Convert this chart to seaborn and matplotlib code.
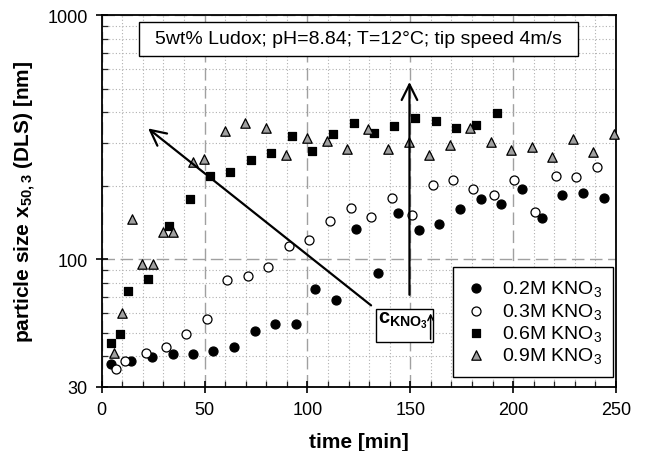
import numpy as np
import pandas as pd
import seaborn as sns
import matplotlib.pyplot as plt
from matplotlib.patches import Rectangle
from matplotlib.ticker import FixedLocator, MultipleLocator, NullFormatter

# (time in min, x50,3 in nm)
t_02 = [4.5, 14.1, 24.3, 34.5, 44.2, 54.3, 64.3, 74.4, 84.4, 94.3, 103.7, 113.9, 123.6,
        134.2, 144.2, 154.3, 164.1, 174.2, 184.3, 194.1, 204.2, 214.1, 223.9, 234.1, 244.2]
d_02 = [37.1, 38.3, 39.8, 41.1, 41.1, 42.1, 43.9, 50.8, 54.2, 54.5, 75.4, 68.1, 132.7,
        87.6, 155.4, 131.9, 139.1, 160.3, 176.2, 168.0, 193.6, 147.2, 182.9, 186.4, 179.0]

t_03 = [6.8, 11.3, 21.4, 31.3, 41.0, 51.0, 61.1, 71.3, 81.0, 90.9, 100.9, 111.0, 121.0,
        130.8, 141.0, 151.0, 160.9, 170.9, 180.7, 190.6, 200.6, 210.6, 220.7, 230.6, 240.6]
d_03 = [35.4, 38.3, 41.4, 43.7, 49.3, 57.2, 82.3, 85.4, 93.0, 113.4, 120.0, 143.6, 162.9,
        149.6, 177.8, 151.5, 201.7, 210.7, 193.6, 183.5, 210.7, 156.3, 218.3, 216.2, 239.0]

t_06 = [4.5, 8.9, 12.6, 22.7, 32.7, 42.9, 52.5, 62.5, 72.4, 82.5, 92.5, 102.4, 112.6,
        122.5, 132.2, 142.3, 152.3, 162.4, 172.2, 182.1, 192.3]
d_06 = [45.5, 49.6, 74.2, 83.3, 136.9, 177.3, 219.4, 226.6, 253.9, 272.8, 319.3, 276.3, 325.2,
        359.7, 327.5, 350.9, 377.6, 367.9, 343.4, 354.0, 398.1]

t_09 = [6.0, 9.7, 14.6, 19.8, 24.8, 29.9, 34.8, 44.5, 49.6, 59.8, 69.8, 80.0, 89.6, 99.7,
        109.4, 119.4, 129.3, 139.3, 149.4, 159.3, 169.3, 179.2, 189.3, 199.1, 209.2, 219.1,
        229.1, 239.0, 249.1]
d_09 = [41.2, 60.5, 146.8, 96.0, 96.0, 129.4, 129.4, 249.0, 256.9, 333.6, 360.9, 344.3, 267.5,
        313.3, 303.6, 281.6, 341.0, 281.6, 302.6, 266.1, 293.1, 344.3, 302.6, 279.9, 288.7,
        261.2, 310.3, 273.7, 325.2]

labels = ['0.2M KNO$_3$', '0.3M KNO$_3$', '0.6M KNO$_3$', '0.9M KNO$_3$']

df = pd.concat([
    pd.DataFrame({'time': t_02, 'size': d_02, 'series': labels[0]}),
    pd.DataFrame({'time': t_03, 'size': d_03, 'series': labels[1]}),
    pd.DataFrame({'time': t_06, 'size': d_06, 'series': labels[2]}),
    pd.DataFrame({'time': t_09, 'size': d_09, 'series': labels[3]}),
], ignore_index=True)

sns.set_style('white')
plt.rcParams['font.family'] = ['Liberation Sans', 'DejaVu Sans']
plt.rcParams['mathtext.fontset'] = 'custom'
plt.rcParams['mathtext.rm'] = 'Liberation Sans'
plt.rcParams['mathtext.bf'] = 'Liberation Sans:bold'
plt.rcParams['mathtext.default'] = 'regular'
plt.rcParams['text.color'] = 'black'
plt.rcParams['axes.labelcolor'] = 'black'

fig = plt.figure(figsize=(6.46, 4.52), dpi=100)
ax = fig.add_axes([0.1574, 0.1416, 0.7962, 0.823])

styles = {
    labels[0]: dict(marker='o', color='black', edgecolor='black', s=42),
    labels[1]: dict(marker='o', color='white', edgecolor='black', s=42),
    labels[2]: dict(marker='s', color='black', edgecolor='black', s=34),
    labels[3]: dict(marker='^', color='#a0a0a0', edgecolor='black', s=46),
}
for lab in labels:
    sub = df[df['series'] == lab]
    sns.scatterplot(data=sub, x='time', y='size', ax=ax, label=lab, linewidth=0.9,
                    clip_on=False, zorder=3, **styles[lab])

ax.set_yscale('log')
ax.set_xlim(0, 250)
ax.set_ylim(30, 1000)

ax.xaxis.set_major_locator(MultipleLocator(50))
ax.xaxis.set_minor_locator(MultipleLocator(10))
ax.yaxis.set_major_locator(FixedLocator([30, 100, 1000]))
ax.yaxis.set_minor_locator(FixedLocator([40, 50, 60, 70, 80, 90, 200, 300, 400, 500,
                                         600, 700, 800, 900]))
ax.yaxis.set_major_formatter(plt.FuncFormatter(lambda v, p: f'{v:g}'))
ax.yaxis.set_minor_formatter(NullFormatter())

ax.grid(which='minor', ls=(0, (1, 2)), color='#b0b0b0', lw=0.8)
ax.grid(which='major', ls=(0, (9, 4)), color='#a0a0a0', lw=1.0)
ax.set_axisbelow(True)

for sp in ax.spines.values():
    sp.set_color('black')
    sp.set_linewidth(1.3)

ax.tick_params(which='major', direction='inout', length=9, width=1.2, labelsize=13,
               pad=5.5, bottom=True, left=True, top=False, right=False,
               colors='black', labelcolor='black')
ax.tick_params(which='minor', direction='in', length=4, width=0.9,
               bottom=True, left=True, top=False, right=False)

ax.set_xlabel('time [min]', fontsize=15, fontweight='bold', labelpad=10)
ax.set_ylabel(r'particle size x$_{\mathbf{50,3}}$ (DLS) [nm]', fontsize=15,
              fontweight='bold', labelpad=7)

# conditions box at the top
ax.add_patch(Rectangle((0.0725, 0.8898), 0.8536, 0.0914, transform=ax.transAxes,
                       fc='white', ec='black', lw=1, zorder=5))
ax.text(0.4993, 0.9355, '5wt% Ludox; pH=8.84; T=12°C; tip speed 4m/s',
        transform=ax.transAxes, ha='center', va='center', fontsize=14, zorder=6)

# arrows showing the increasing KNO3 concentration
ax.annotate('', xy=(21.5, 349), xytext=(132, 63.7),
            arrowprops=dict(arrowstyle='->', lw=1.6, color='black', mutation_scale=28))
ax.annotate('', xy=(149.6, 546), xytext=(149.6, 69.7),
            arrowprops=dict(arrowstyle='->', lw=1.6, color='black', mutation_scale=28))

# small c_KNO3 box
ax.add_patch(Rectangle((0.5333, 0.1202), 0.1115, 0.0895, transform=ax.transAxes,
                       fc='white', ec='black', lw=1, zorder=5))
ax.text(0.5380, 0.175, r'$\mathbf{c_{KNO_3}}$', transform=ax.transAxes, ha='left',
        va='baseline', fontsize=14.5, zorder=6)
ax.annotate('', xy=(0.6395, 0.198), xytext=(0.6395, 0.128), xycoords='axes fraction',
            textcoords='axes fraction', zorder=6,
            arrowprops=dict(arrowstyle='->', lw=1.1, color='black', mutation_scale=10,
                            shrinkA=0, shrinkB=0))

leg = ax.legend(loc='lower right', bbox_to_anchor=(0.995, 0.027), fontsize=14,
                frameon=True, fancybox=False, framealpha=1, edgecolor='black',
                labelspacing=0.12, handletextpad=0.7, borderpad=0.6, handlelength=1.2,
                borderaxespad=0)
leg.get_frame().set_linewidth(1.0)
leg.set_zorder(6)

fig.savefig('out.png', dpi=100)
